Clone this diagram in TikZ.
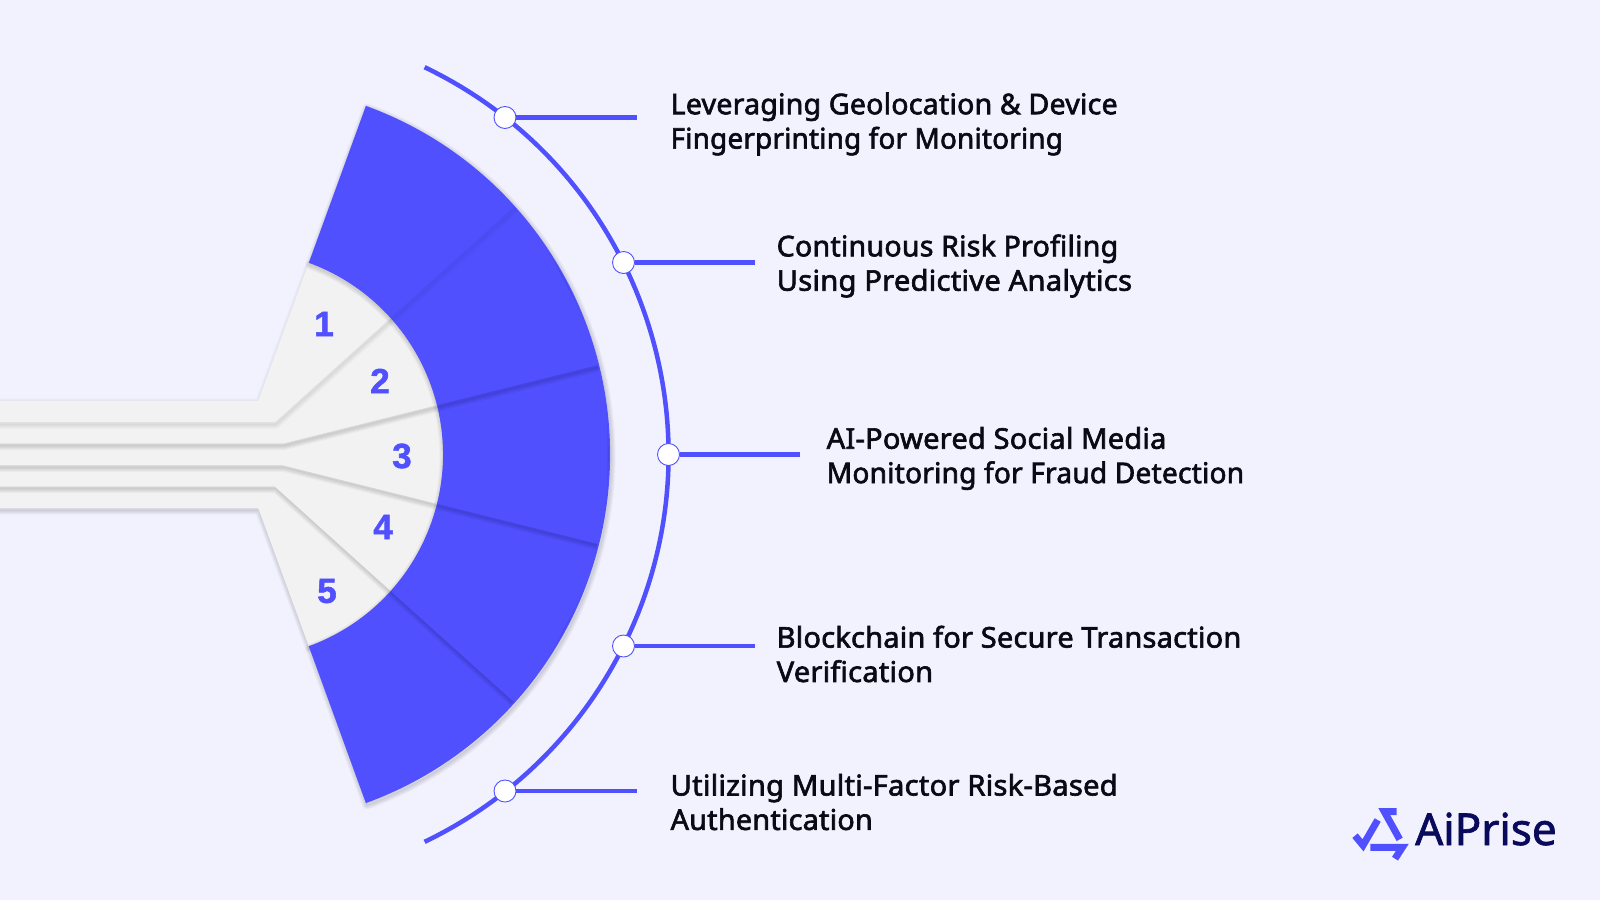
\documentclass[tikz,border=0pt]{standalone}
\usepackage{fontspec}
\setmainfont{Noto Sans}
\newfontfamily\labfont[FakeBold=2.2,LetterSpace=0.8]{Noto Sans}
\newfontfamily\numfont[FakeBold=1.5]{Liberation Sans Bold}
\newfontfamily\logofont[FakeBold=1.6]{Noto Sans}
\definecolor{bgc}{HTML}{F2F2FF}
\definecolor{bluec}{HTML}{5050FF}
\definecolor{grayc}{HTML}{F2F2F2}
\definecolor{navyc}{HTML}{0A0A5C}
\definecolor{inkc}{HTML}{0A0A14}
\tikzset{
  x=1pt,y=1pt,
  lab/.style={anchor=west,align=left,inner sep=0pt,text=inkc,font=\labfont\fontsize{28.5}{34.4}\selectfont},
  num/.style={inner sep=0pt,text=bluec,font=\numfont\fontsize{35}{35}\selectfont},
  dot/.style={circle,fill=white,draw=bluec,line width=0.9pt,minimum size=22pt,inner sep=0pt},
  lead/.style={draw=bluec,line width=4.5pt},
  logostroke/.style={draw=bluec,line width=7pt,miter limit=10,line join=miter}
}
\newcommand{\hs}[2]{\scalebox{#1}[1]{#2}}
\newcommand{\softfill}[3]{%
  \begin{scope}[shift={(1,-2)}]
    \foreach \w in {1,3,5,7,9}{\path[draw=black,draw opacity=#3,line width=\w pt,line join=round] #2;}
  \end{scope}
  \path[fill=#1] #2;
}
\newcommand{\ringpath}{(70:204) -- (70:371) arc[start angle=70,end angle=-70,radius=371] -- (-70:204) arc[start angle=-70,end angle=70,radius=204] -- cycle}
\newcommand{\ringinner}{(69.7:205) -- (69.7:369.5) arc[start angle=69.7,end angle=-69.7,radius=369.5] -- (-69.7:205) arc[start angle=-69.7,end angle=69.7,radius=205] -- cycle}
\begin{document}
\begin{tikzpicture}
\useasboundingbox (0,0) rectangle (1600,-900);
\fill[bgc] (0,0) rectangle (1600,-900);
\begin{scope}[shift={(239,-454.5)}]
  % grey inner wedges with their strips
  \softfill{grayc}{(-260,-32.2) -- (36,-32.2) -- (-42:204) arc[start angle=-42,end angle=-70,radius=204] -- (19.3,-53.7) -- (-260,-53.7) -- cycle}{0.03}
  \softfill{grayc}{(-260,-10.8) -- (43.7,-10.8) -- (-14:204) arc[start angle=-14,end angle=-42,radius=204] -- (36,-32.2) -- (-260,-32.2) -- cycle}{0.03}
  \softfill{grayc}{(-260,10.8) -- (43.7,10.8) -- (14:204) arc[start angle=14,end angle=-14,radius=204] -- (43.7,-10.8) -- (-260,-10.8) -- cycle}{0.03}
  \softfill{grayc}{(-260,32.2) -- (36,32.2) -- (42:204) arc[start angle=42,end angle=14,radius=204] -- (43.7,10.8) -- (-260,10.8) -- cycle}{0.03}
  \softfill{grayc}{(-260,53.7) -- (19.3,53.7) -- (70:204) arc[start angle=70,end angle=42,radius=204] -- (36,32.2) -- (-260,32.2) -- cycle}{0.02}
  % blue ring: shadow of the whole fan, then the sector divisions clipped inside it
  \softfill{bluec}{\ringpath}{0.03}
  \begin{scope}
    \clip \ringinner;
    \softfill{bluec}{(-14:200) -- (-14:380) -- (-42:380) -- (-42:200) -- cycle}{0.03}
    \softfill{bluec}{(14:200) -- (14:380) -- (-14:380) -- (-14:200) -- cycle}{0.03}
    \softfill{bluec}{(42:200) -- (42:380) -- (14:380) -- (14:200) -- cycle}{0.03}
    \softfill{bluec}{(70:190) -- (70:400) -- (42:400) -- (42:190) -- cycle}{0.012}
  \end{scope}
  % outer thin arc
  \draw[bluec,line width=4.5pt] (64.4:429.5) arc[start angle=64.4,end angle=-64.4,radius=429.5];
\end{scope}
% numbers
\node[num] (n1) at (324,-324) {1};
\node[num] (n2) at (380,-381) {2};
\node[num] (n3) at (402,-456) {3};
\node[num] (n4) at (383,-527) {4};
\node[num] (n5) at (327,-591) {5};
% connectors
\coordinate (e1) at (637,-117.5);
\coordinate (e2) at (755,-262.5);
\coordinate (e3) at (800,-454.5);
\coordinate (e4) at (755,-646);
\coordinate (e5) at (637,-791);
\node[dot] (d1) at (505,-117.5) {};
\node[dot] (d2) at (623.5,-262.5) {};
\node[dot] (d3) at (668.5,-454.5) {};
\node[dot] (d4) at (623.5,-646) {};
\node[dot] (d5) at (505,-791) {};
\draw[lead] (d1) -- (e1);
\draw[lead] (d2) -- (e2);
\draw[lead] (d3) -- (e3);
\draw[lead] (d4) -- (e4);
\draw[lead] (d5) -- (e5);
% labels
\node[lab] (t1) at (670.4,-124) {\hs{1.002}{Leveraging Geolocation \& Device}\\\hs{0.977}{Fingerprinting for Monitoring}};
\node[lab] (t2) at (776.5,-266) {\hs{1.003}{Continuous Risk Profiling}\\\hs{1.024}{Using Predictive Analytics}};
\node[lab] (t3) at (826.5,-458.5) {\hs{1.018}{AI-Powered Social Media}\\\hs{0.986}{Monitoring for Fraud Detection}};
\node[lab] (t4) at (776.5,-654) {\hs{1.016}{Blockchain for Secure Transaction}\\\hs{1.02}{Verification}};
\node[lab] (t5) at (670.4,-802) {\hs{1.023}{Utilizing Multi-Factor Risk-Based}\\\hs{1.01}{Authentication}};
% logo
\begin{scope}[shift={(1345,-800)},x=0.3333pt,y=-0.3333pt]
  \draw[logostroke] (30,107) -- (54,136) -- (98,60);
  \draw[logostroke] (155,35) -- (118,35) -- (164,118);
  \draw[logostroke] (76,142) -- (172,142) -- (150,176);
\end{scope}
\node[anchor=base west,inner sep=0pt,text=navyc,font=\logofont\fontsize{44}{44}\selectfont] (logo) at (1415,-845) {AiPrise};
\end{tikzpicture}
\end{document}
